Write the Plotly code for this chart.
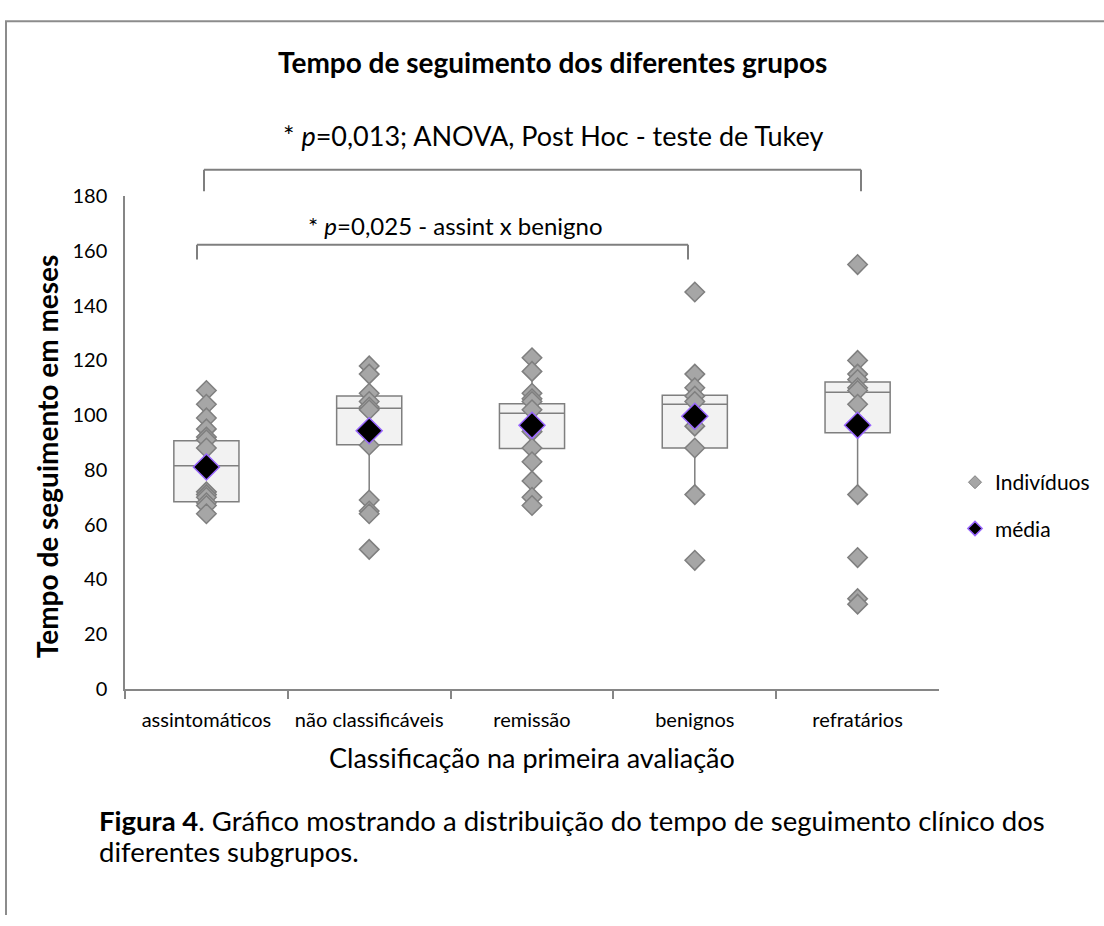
import plotly.graph_objects as go

W, H = 1104, 926

categorias = ["assintomáticos", "não classificáveis", "remissão", "benignos", "refratários"]

# tempo de seguimento (meses) de cada indivíduo, por grupo
assintomaticos = [109, 104, 99, 95, 92, 91, 88, 72, 71, 70, 68, 67, 64]
nao_classificaveis = [118, 115, 108, 105, 103, 102, 89, 69, 65, 64, 51]
remissao = [121, 116, 108, 106, 105, 102, 94, 88, 83, 76, 70, 67]
benignos = [145, 115, 110, 107, 105, 96, 88, 71, 47]
refratarios = [155, 120, 115, 113, 110, 109, 104, 96, 71, 48, 33, 31]

# resumo por grupo
media = [81.1, 94.3, 96.3, 99.6, 96.3]
q1 = [68.4, 89.2, 87.8, 88.0, 93.6]
mediana = [81.5, 102.5, 100.7, 104.0, 108.4]
q3 = [90.7, 107.0, 104.2, 107.3, 112.1]
lim_inf = [64, 69, 67, 71, 71]
lim_sup = [109, 118, 121, 115, 120]

y_ticks = list(range(0, 181, 20))

FONT = "Lato"
GRAY = "#7f7f7f"


def px(x):
    return x / W


def py(y):
    return 1 - y / H


grupos = [assintomaticos, nao_classificaveis, remissao, benignos, refratarios]
x_ind, y_ind = [], []
for cat, vals in zip(categorias, grupos):
    x_ind += [cat] * len(vals)
    y_ind += vals

fig = go.Figure()

fig.add_trace(go.Box(
    x=categorias, q1=q1, median=mediana, q3=q3,
    lowerfence=lim_inf, upperfence=lim_sup,
    fillcolor="#f2f2f2", line=dict(color=GRAY, width=1.5),
    width=0.4, whiskerwidth=0, boxpoints=False,
    showlegend=False, hoverinfo="skip",
))

fig.add_trace(go.Scatter(
    x=x_ind, y=y_ind, mode="markers", showlegend=False,
    marker=dict(symbol="diamond", size=15, color="#a6a6a6",
                line=dict(color=GRAY, width=1.5)),
))

fig.add_trace(go.Scatter(
    x=categorias, y=media, mode="markers", showlegend=False,
    marker=dict(symbol="diamond", size=20, color="black",
                line=dict(color="#9966ff", width=1.5)),
))

# entradas da legenda
fig.add_trace(go.Scatter(
    x=[None], y=[None], mode="markers", name="Indivíduos", legendgroup="a",
    marker=dict(symbol="diamond", size=10, color="#a6a6a6",
                line=dict(color=GRAY, width=1)),
))
fig.add_trace(go.Scatter(
    x=[None], y=[None], mode="markers", name="média", legendgroup="b",
    marker=dict(symbol="diamond", size=11, color="black",
                line=dict(color="#9966ff", width=1.5)),
))

ann = []


def text(t, x, y, size, xanchor="center", angle=0):
    ann.append(dict(text=t, x=px(x), y=py(y), xref="paper", yref="paper",
                    showarrow=False, xanchor=xanchor, yanchor="middle",
                    textangle=angle, font=dict(family=FONT, size=size, color="black")))


text("<b>Tempo de seguimento dos diferentes grupos</b>", 552, 50, 28)
text("* <i>p</i>=0,013; ANOVA, Post Hoc - teste de Tukey", 553, 126, 27)
text("* <i>p</i>=0,025 - assint x benigno", 455, 218, 24)
text("<b>Tempo de seguimento em meses</b>", 47, 455, 28, angle=-90)
text("Classificação na primeira avaliação", 532, 764, 27)
text("<b>Figura 4</b>. Gráfico mostrando a distribuição do tempo de seguimento clínico dos",
     97, 829, 27.5, xanchor="left")
text("diferentes subgrupos.", 97, 861, 27.5, xanchor="left")

shapes = []


def line(x0, y0, x1, y1, color=GRAY, width=2):
    shapes.append(dict(type="line", xref="paper", yref="paper",
                       x0=px(x0), y0=py(y0), x1=px(x1), y1=py(y1),
                       line=dict(color=color, width=width)))


# colchetes de comparação
line(204, 161, 861, 161)
line(204, 161, 204, 183)
line(861, 161, 861, 183)
line(197, 238, 688, 238)
line(197, 238, 197, 253)
line(688, 238, 688, 253)
# moldura da página
line(5, 8.5, 1104, 8.5, "#8c8c8c", 2)
line(6, 8.5, 6, 926, "#8c8c8c", 2)

fig.update_layout(
    width=W, height=H, margin=dict(l=0, r=0, t=0, b=0),
    paper_bgcolor="white", plot_bgcolor="white",
    font=dict(family=FONT, color="black"),
    annotations=ann, shapes=shapes,
    showlegend=True,
    legend=dict(x=px(955), y=py(461), xanchor="left", yanchor="top",
                font=dict(family=FONT, size=21, color="black"),
                tracegroupgap=16, traceorder="grouped",
                bgcolor="rgba(0,0,0,0)"),
    xaxis=dict(domain=[px(125), px(939)], type="category",
               categoryorder="array", categoryarray=categorias,
               range=[-0.5, 4.5], showline=True, linecolor="#868686", linewidth=1.5,
               ticks="outside", tickson="boundaries", ticklen=8,
               tickcolor="#868686", tickwidth=1.5, ticklabelstandoff=12,
               tickfont=dict(family=FONT, size=20, color="black"),
               showgrid=False, zeroline=False),
    yaxis=dict(domain=[py(694), py(188)], range=[0, 180],
               tickvals=y_ticks, showline=True, linecolor="#868686", linewidth=1.5,
               ticks="", ticklabelstandoff=12,
               tickfont=dict(family=FONT, size=20, color="black"),
               showgrid=False, zeroline=False),
)

fig.write_html("out.html")
